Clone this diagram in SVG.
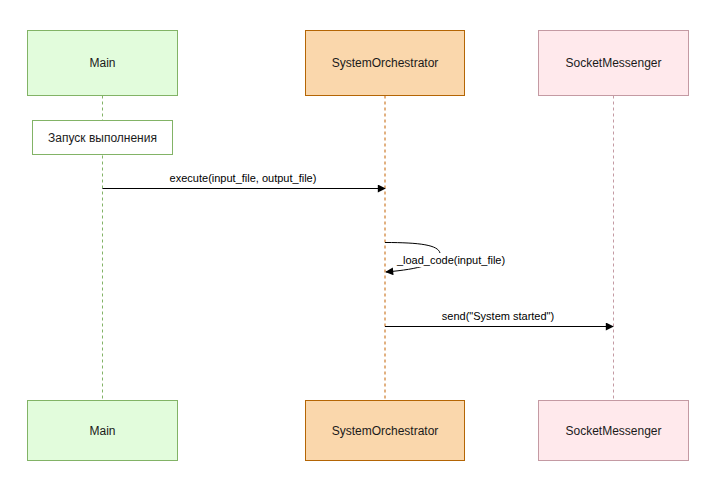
<svg xmlns="http://www.w3.org/2000/svg" width="711" height="481" viewBox="0 0 711 481">
<defs>
<style>
text{font-family:"Liberation Sans",Arial,sans-serif;font-size:12px;fill:#1a1a1a;text-anchor:middle}
.lbl{font-size:11px;fill:#000}
.main{fill:#e2fcdc;stroke:#82b366;stroke-width:1}
.orch{fill:#fad7ac;stroke:#b46504;stroke-width:1}
.sock{fill:#ffe9ec;stroke:#c49aa3;stroke-width:1}
.note{fill:#ffffff;stroke:#82b366;stroke-width:1}
.life{fill:none;stroke-dasharray:3 3}
.msg{fill:none;stroke:#000;stroke-width:1;marker-end:url(#ah)}
</style>
<marker id="ah" viewBox="0 0 10 10" refX="9" refY="5" markerWidth="9" markerHeight="8" markerUnits="userSpaceOnUse" orient="auto">
<path d="M0,0 L10,5 L0,10 z" fill="#000"/>
</marker>
</defs>
<rect width="711" height="481" fill="#ffffff"/>
<g id="lifelines">
<line class="life" x1="102.5" y1="95.5" x2="102.5" y2="400.5" stroke="#82b366"/>
<line class="life" x1="385" y1="95.5" x2="385" y2="400.5" stroke="#dca26a" stroke-width="2" opacity="0.85"/>
<line class="life" x1="613.5" y1="95.5" x2="613.5" y2="400.5" stroke="#c49aa3"/>
</g>
<g id="main-top"><rect class="main" x="27.5" y="30.5" width="150" height="65"/><text x="102.5" y="67">Main</text></g>
<g id="orch-top"><rect class="orch" x="305.5" y="30.5" width="159" height="65"/><text x="385" y="67">SystemOrchestrator</text></g>
<g id="sock-top"><rect class="sock" x="538.5" y="30.5" width="150" height="65"/><text x="613.5" y="67">SocketMessenger</text></g>
<g id="note"><rect class="note" x="32.5" y="120.5" width="140" height="34"/><text x="102.5" y="141.5">Запуск выполнения</text></g>
<g id="connectors">
<line class="msg" x1="102.5" y1="188.5" x2="385" y2="188.5"/>
<text class="lbl" x="243" y="182">execute(input_file, output_file)</text>
<path class="msg" d="M385,242.5 C420,242.5 438,245 440,253 C438,264 420,269 386,272"/>
<rect x="397" y="253" width="109" height="14" fill="#ffffff"/>
<text class="lbl" x="451" y="264">_load_code(input_file)</text>
<line class="msg" x1="385" y1="326.5" x2="613" y2="326.5"/>
<text class="lbl" x="498" y="320">send("System started")</text>
</g>
<g id="main-bottom"><rect class="main" x="27.5" y="400.5" width="150" height="60"/><text x="102.5" y="434.5">Main</text></g>
<g id="orch-bottom"><rect class="orch" x="305.5" y="400.5" width="159" height="60"/><text x="385" y="434.5">SystemOrchestrator</text></g>
<g id="sock-bottom"><rect class="sock" x="538.5" y="400.5" width="150" height="60"/><text x="613.5" y="434.5">SocketMessenger</text></g>
</svg>
